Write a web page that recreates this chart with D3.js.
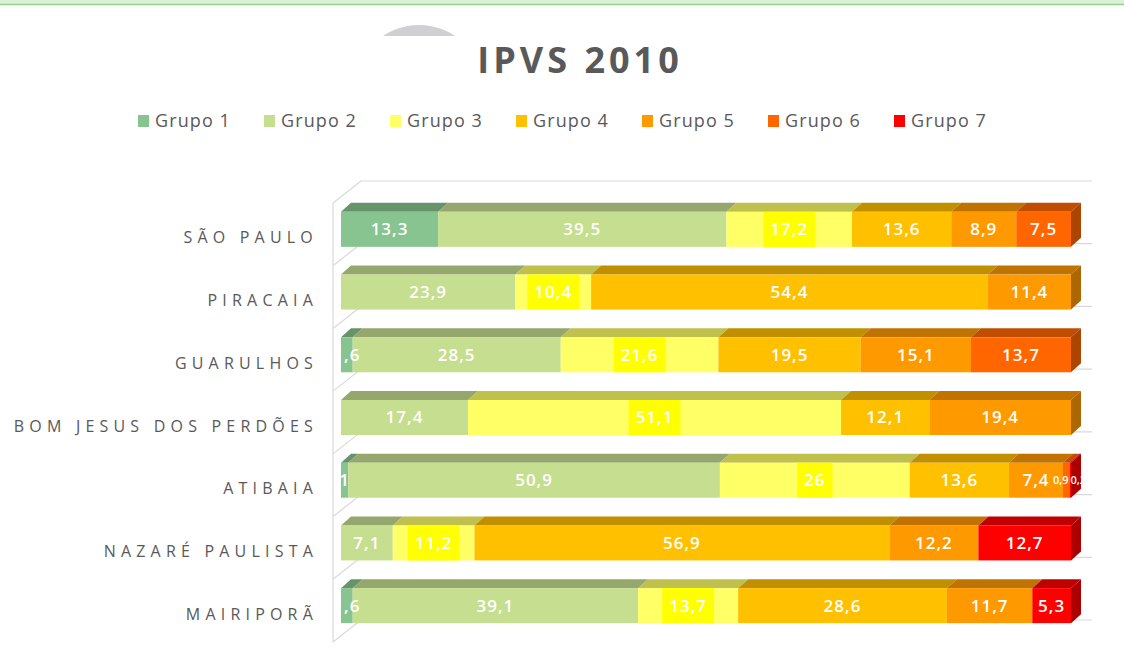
<!DOCTYPE html>
<html>
<head>
<meta charset="utf-8">
<script src="https://cdn.jsdelivr.net/npm/d3@7"></script>
<style>
  body { margin: 0; background: #fff; }
  svg { display: block; font-family: "Open Sans", sans-serif; }
</style>
</head>
<body>
<svg id="chart" width="1124" height="659"></svg>
<script>
// dados IPVS 2010 (% da populacao por grupo)
const categories = ['SÃO PAULO', 'PIRACAIA', 'GUARULHOS ', 'BOM JESUS DOS PERDÕES', 'ATIBAIA', 'NAZARÉ PAULISTA', 'MAIRIPORÃ']
const groups = ['Grupo 1', 'Grupo 2', 'Grupo 3', 'Grupo 4', 'Grupo 5', 'Grupo 6', 'Grupo 7']
const grupo1 = [13.3, 0, 1.6, 0, 1, 0, 1.6]
const grupo2 = [39.5, 23.9, 28.5, 17.4, 50.9, 7.1, 39.1]
const grupo3 = [17.2, 10.4, 21.6, 51.1, 26, 11.2, 13.7]
const grupo4 = [13.6, 54.4, 19.5, 12.1, 13.6, 56.9, 28.6]
const grupo5 = [8.9, 11.4, 15.1, 19.4, 7.4, 12.2, 11.7]
const grupo6 = [7.5, 0, 13.7, 0, 0.9, 0, 0]
const grupo7 = [0, 0, 0, 0, 0.2, 12.7, 5.3]
const colors = ['#88c48f', '#c6de8f', '#ffff66', '#ffc000', '#ff9900', '#ff6600', '#ff0000']

const series = [grupo1, grupo2, grupo3, grupo4, grupo5, grupo6, grupo7]
const rows = categories.map((c, i) => {
    let o = {cat: c}
    groups.forEach((g, k) => o[g] = series[k][i])
    return o
})

const svg = d3.select('#chart')
const dx = 10, dy = 9          // profundidade 3D das barras
const wx = 28, wy = 22         // profundidade da parede
const fmt = v => String(v).replace('.', ',')

const x = d3.scaleLinear().domain([0, 1]).range([341, 1071])
const y = d3.scaleBand().domain(categories).range([198, 637])
    .paddingInner(0.442).paddingOuter(0.221)
const color = d3.scaleOrdinal().domain(groups).range(colors)

// faixa verde no topo e circulo cinza
svg.append('rect').attr('x', 0).attr('y', 0).attr('width', 1124).attr('height', 4).attr('fill', '#dcefd8')
svg.append('line').attr('x1', 0).attr('x2', 1124).attr('y1', 4.5).attr('y2', 4.5)
    .attr('stroke', '#8fd38c').attr('stroke-width', 1.5)
svg.append('clipPath').attr('id', 'dome').append('rect')
    .attr('x', 300).attr('y', 0).attr('width', 300).attr('height', 36)
svg.append('circle').attr('cx', 419).attr('cy', 89).attr('r', 64)
    .attr('fill', '#d0d0d2').attr('clip-path', 'url(#dome)')

// titulo
svg.append('text').attr('x', 580).attr('y', 73).attr('text-anchor', 'middle')
    .attr('font-size', 36).attr('font-weight', 700).attr('letter-spacing', 4)
    .attr('fill', '#595959').text('IPVS 2010')

// legenda
const leg = svg.append('g').selectAll('g').data(groups).enter().append('g')
    .attr('transform', (d, i) => 'translate(' + (138 + i * 126) + ',115)')
leg.append('rect').attr('width', 11).attr('height', 12).attr('fill', d => color(d))
leg.append('text').attr('x', 17).attr('y', 12).attr('font-size', 18)
    .attr('letter-spacing', 1.1).attr('fill', '#595959').text(d => d)

// grade 3D (parede lateral e fundo)
const step = y.step()
const bounds = d3.range(categories.length + 1).map(i => 198 + 5 + i * step)
const grid = svg.append('g').attr('stroke', '#d9d9d9').attr('stroke-width', 1.2).attr('fill', 'none')
grid.append('line').attr('x1', 333).attr('x2', 333).attr('y1', bounds[0]).attr('y2', bounds[bounds.length - 1])
bounds.forEach(b => {
    grid.append('line').attr('x1', 333).attr('y1', b).attr('x2', 333 + wx).attr('y2', b - wy)
    grid.append('line').attr('x1', 333 + wx).attr('y1', b - wy).attr('x2', 1092).attr('y2', b - wy)
})

// eixo de categorias
svg.append('g').selectAll('text').data(categories).enter().append('text')
    .attr('x', 318).attr('y', d => y(d) + y.bandwidth() / 2 + 14)
    .attr('text-anchor', 'end').attr('font-size', 16).attr('letter-spacing', 5.2)
    .attr('fill', '#595959').text(d => d)

// barras empilhadas 100%
const stack = d3.stack().keys(groups).offset(d3.stackOffsetExpand)(rows)
const h = y.bandwidth()
const bars = svg.append('g')
stack.forEach((layer, k) => {
    const c = d3.color(colors[k])
    layer.forEach((s, i) => {
        const v = series[k][i]
        if (!v) return
        const x0 = x(s[0]), x1 = x(s[1]), y0 = y(categories[i])
        bars.append('path')
            .attr('d', `M${x0},${y0}L${x0 + dx},${y0 - dy}L${x1 + dx},${y0 - dy}L${x1},${y0}Z`)
            .attr('fill', c.darker(0.8))
        bars.append('rect').attr('x', x0).attr('y', y0).attr('width', x1 - x0).attr('height', h)
            .attr('fill', colors[k])
        let last = series.slice(k + 1).every(a => !a[i])
        if (last) {
            bars.append('path')
                .attr('d', `M${x1},${y0}L${x1 + dx},${y0 - dy}L${x1 + dx},${y0 + h - dy}L${x1},${y0 + h}Z`)
                .attr('fill', c.darker(1.1))
        }
    })
})

// rotulos de dados
svg.append('clipPath').attr('id', 'plot').append('rect')
    .attr('x', 341).attr('y', 150).attr('width', 780).attr('height', 500)
const labels = svg.append('g').attr('clip-path', 'url(#plot)')
stack.forEach((layer, k) => {
    layer.forEach((s, i) => {
        const v = series[k][i]
        if (!v) return
        const x0 = x(s[0]), x1 = x(s[1]), y0 = y(categories[i])
        let cx = (x0 + x1) / 2, anchor = 'middle', size = 17, ls = 1
        if (v < 1) {
            // fatias muito finas: fonte menor, encostadas para nao sobrepor
            size = 11; ls = 0
            let last = series.slice(k + 1).every(a => !a[i])
            if (last) { cx = x0 + 1; anchor = 'start' } else { cx = x1 - 1; anchor = 'end' }
        }
        const box = labels.append('rect')
        const t = labels.append('text').attr('x', cx).attr('y', y0 + h / 2 + size * 0.35)
            .attr('text-anchor', anchor).attr('font-size', size).attr('font-weight', 600)
            .attr('letter-spacing', ls).attr('fill', '#fff').text(fmt(v))
        if (k === 2) {
            const w = t.node().getComputedTextLength() + 14
            box.attr('x', cx - w / 2).attr('y', y0).attr('width', w).attr('height', h).attr('fill', '#ffff00')
        } else box.remove()
    })
})
</script>
</body>
</html>
